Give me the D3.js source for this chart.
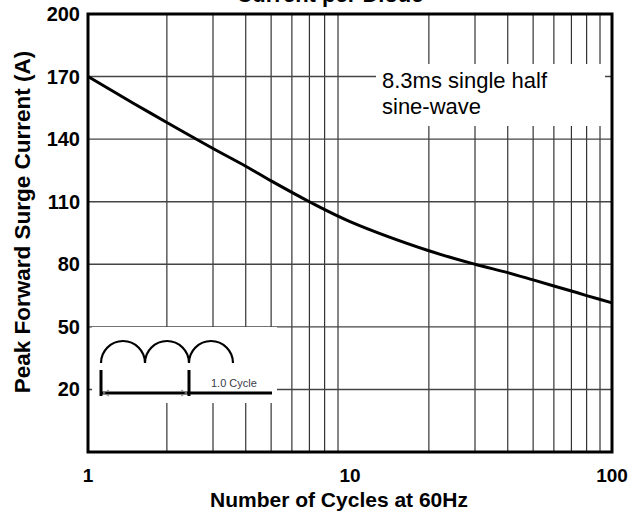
<!DOCTYPE html>
<head>
  <meta http-equiv="Content-Type" content="text/html; charset=utf-8">
  <style>
    body { margin: 0; background: #fff; }
    text { font-family: "Liberation Sans", Arial, sans-serif; }
  </style>
</head>
<body></body>
<script src="https://cdnjs.cloudflare.com/ajax/libs/d3/7.8.5/d3.min.js"></script>
<script>

var width = 633,
    height = 514;

// Data
var cycles  = [1, 1.5, 2, 3, 4, 5, 7, 10, 20, 30, 40, 50, 60, 70, 80, 100];
var current = [170, 157, 148, 135.5, 127, 120, 110, 100.5, 86.5, 80, 76, 72.5, 69.6, 67.2, 65, 61.5];

var yTicks = [20, 50, 80, 110, 140, 170, 200];
var xLabels = [1, 10, 100];
var xGrid = [2, 3, 4, 5, 6, 7, 8, 9, 20, 30, 40, 50, 60, 70, 80, 90];

var xs = d3.scaleLog()
    .domain([1, 100])
    .range([88, 612]);
var ys = d3.scaleLinear()
    .domain([-10, 200])
    .range([452, 14]);

var svg = d3.select("body").append("svg")
    .attr("width", width)
    .attr("height", height);

// grid
svg.selectAll(".vgrid")
    .data(xGrid)
    .enter()
    .append("line")
    .attr("class", "vgrid")
    .attr("x1", function(d){return xs(d);})
    .attr("x2", function(d){return xs(d);})
    .attr("y1", ys(200))
    .attr("y2", ys(-10))
    .attr("stroke", "#333")
    .attr("stroke-width", 1.2);

svg.selectAll(".hgrid")
    .data(yTicks.filter(function(d){return d < 200;}))
    .enter()
    .append("line")
    .attr("class", "hgrid")
    .attr("x1", xs(1))
    .attr("x2", xs(100))
    .attr("y1", function(d){return ys(d);})
    .attr("y2", function(d){return ys(d);})
    .attr("stroke", "#444")
    .attr("stroke-width", 1.4);

// white boxes behind legend and inset
svg.append("rect")
    .attr("x", 376).attr("y", 64)
    .attr("width", 229).attr("height", 62)
    .attr("fill", "#fff");
svg.append("rect")
    .attr("x", 92).attr("y", 327)
    .attr("width", 185).attr("height", 76)
    .attr("fill", "#fff");

// curve
var line = d3.line()
    .x(function(d){return xs(d[0]);})
    .y(function(d){return ys(d[1]);})
    .curve(d3.curveCatmullRom);

svg.append("path")
    .datum(d3.zip(cycles, current))
    .attr("d", line)
    .attr("fill", "none")
    .attr("stroke", "#000")
    .attr("stroke-width", 3);

// frame
svg.append("rect")
    .attr("x", xs(1)).attr("y", ys(200))
    .attr("width", xs(100) - xs(1))
    .attr("height", ys(-10) - ys(200))
    .attr("fill", "none")
    .attr("stroke", "#000")
    .attr("stroke-width", 3);

// tick labels
svg.selectAll(".ylab")
    .data(yTicks)
    .enter()
    .append("text")
    .attr("class", "ylab")
    .attr("x", 80)
    .attr("y", function(d){return ys(d) + 7;})
    .attr("text-anchor", "end")
    .attr("font-size", 20)
    .attr("font-weight", "bold")
    .text(function(d){return d;});

svg.selectAll(".xlab")
    .data(xLabels)
    .enter()
    .append("text")
    .attr("class", "xlab")
    .attr("x", function(d){return xs(d);})
    .attr("y", 482)
    .attr("text-anchor", "middle")
    .attr("font-size", 19)
    .attr("font-weight", "bold")
    .text(function(d){return d;});

// axis titles
svg.append("text")
    .attr("x", 339)
    .attr("y", 507)
    .attr("text-anchor", "middle")
    .attr("font-size", 21)
    .attr("font-weight", "bold")
    .text("Number of Cycles at 60Hz");

svg.append("text")
    .attr("transform", "translate(30,222) rotate(-90)")
    .attr("text-anchor", "middle")
    .attr("font-size", 22.5)
    .attr("font-weight", "bold")
    .text("Peak Forward Surge Current (A)");

svg.append("text")
    .attr("x", 330)
    .attr("y", 2)
    .attr("text-anchor", "middle")
    .attr("font-size", 22)
    .attr("font-weight", "bold")
    .text("Current per Diode");

// legend
svg.append("text")
    .attr("x", 382).attr("y", 88)
    .attr("font-size", 22)
    .text("8.3ms single half");
svg.append("text")
    .attr("x", 382).attr("y", 114)
    .attr("font-size", 22)
    .text("sine-wave");

// inset: half-sine pulses
var arcs = d3.path();
[123, 167, 211].forEach(function(cx){
  arcs.moveTo(cx - 22, 363);
  arcs.arc(cx, 363, 22, Math.PI, 0);
});
svg.append("path")
    .attr("d", arcs.toString())
    .attr("fill", "none")
    .attr("stroke", "#000")
    .attr("stroke-width", 2.2);

svg.selectAll(".bar")
    .data([101, 189])
    .enter()
    .append("line")
    .attr("x1", function(d){return d;})
    .attr("x2", function(d){return d;})
    .attr("y1", 370).attr("y2", 396)
    .attr("stroke", "#000")
    .attr("stroke-width", 3);

svg.append("line")
    .attr("x1", 101).attr("x2", 272)
    .attr("y1", 393).attr("y2", 393)
    .attr("stroke", "#000")
    .attr("stroke-width", 3);

svg.append("path")
    .attr("d", "M109,390 L103,393 L109,396 M181,390 L187,393 L181,396")
    .attr("fill", "none")
    .attr("stroke", "#888")
    .attr("stroke-width", 1);

svg.append("text")
    .attr("x", 211).attr("y", 387)
    .attr("font-size", 11)
    .attr("fill", "#3a3a4a")
    .text("1.0 Cycle");

</script>
</html>
